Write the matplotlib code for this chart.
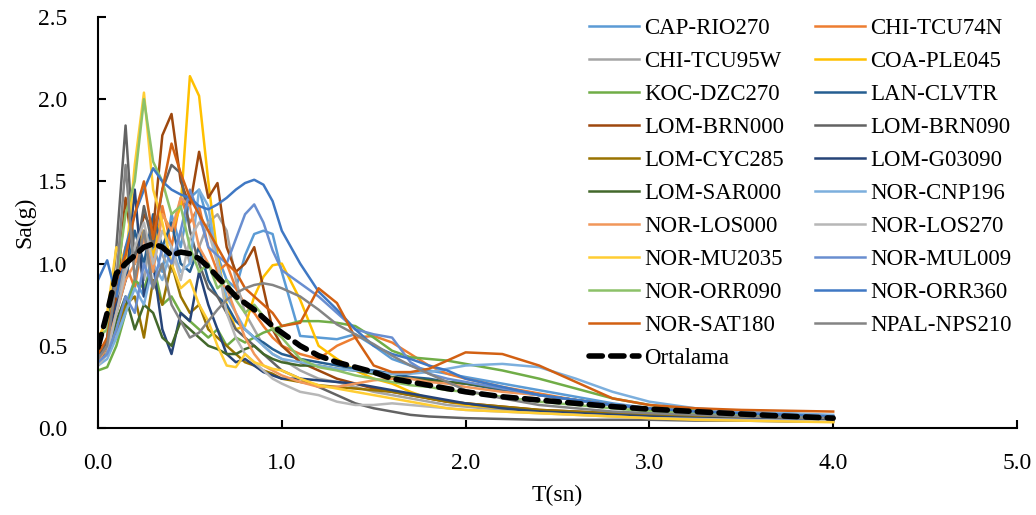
import matplotlib
matplotlib.use("Agg")
import matplotlib.pyplot as plt

plt.rcParams['font.family'] = ['Liberation Serif', 'DejaVu Serif']

T = [0.0, 0.05, 0.1, 0.15, 0.2, 0.25, 0.3, 0.35, 0.4, 0.45, 0.5, 0.55, 0.6, 0.65, 0.7,
     0.75, 0.8, 0.85, 0.9, 0.95, 1.0, 1.1, 1.2, 1.3, 1.4, 1.5, 1.6, 1.7, 1.8, 1.9, 2.0,
     2.2, 2.4, 2.6, 2.8, 3.0, 3.25, 3.5, 3.75, 4.0]

names = ["CAP-RIO270", "CHI-TCU74N", "CHI-TCU95W", "COA-PLE045", "KOC-DZC270", "LAN-CLVTR",
         "LOM-BRN000", "LOM-BRN090", "LOM-CYC285", "LOM-G03090", "LOM-SAR000", "NOR-CNP196",
         "NOR-LOS000", "NOR-LOS270", "NOR-MU2035", "NOR-MUL009", "NOR-ORR090", "NOR-ORR360",
         "NOR-SAT180", "NPAL-NPS210"]

colors = ["#5B9BD5", "#ED7D31", "#A5A5A5", "#FFC000", "#70AD47", "#255E91",
          "#9E480E", "#636363", "#997300", "#264478", "#43682B", "#7CAFDD",
          "#F1975A", "#B7B7B7", "#FFCD33", "#698ED0", "#8CC168", "#3F78C4",
          "#D26012", "#848484"]

CAP_RIO270 = [0.40, 0.45, 0.55, 0.75, 0.90, 0.80, 1.10, 0.95, 1.30, 1.10, 1.40, 1.45, 1.25, 1.05, 0.90,
              0.85, 1.05, 1.18, 1.20, 1.18, 0.95, 0.56, 0.55, 0.54, 0.57, 0.50, 0.42, 0.38, 0.35, 0.33, 0.31,
              0.27, 0.23, 0.19, 0.15, 0.12, 0.10, 0.09, 0.08, 0.07]
CHI_TCU74N = [0.42, 0.50, 0.80, 1.00, 0.85, 1.20, 1.00, 1.35, 1.10, 1.40, 1.25, 1.35, 1.10, 0.95, 1.00,
              0.85, 0.75, 0.70, 0.62, 0.55, 0.50, 0.45, 0.42, 0.50, 0.55, 0.56, 0.52, 0.45, 0.38, 0.33, 0.30,
              0.25, 0.21, 0.17, 0.14, 0.12, 0.10, 0.09, 0.08, 0.07]
CHI_TCU95W = [0.40, 0.48, 0.75, 1.00, 1.10, 0.90, 1.25, 1.05, 0.95, 1.20, 1.00, 1.10, 1.25, 1.30, 1.20,
              0.90, 0.70, 0.60, 0.50, 0.45, 0.42, 0.35, 0.30, 0.28, 0.25, 0.22, 0.20, 0.18, 0.16, 0.14, 0.13,
              0.11, 0.10, 0.09, 0.08, 0.07, 0.06, 0.055, 0.05, 0.045]
COA_PLE045 = [0.55, 0.65, 0.90, 1.10, 1.00, 1.20, 1.05, 1.30, 1.20, 1.35, 2.14, 2.02, 1.50, 1.05, 0.75,
              0.60, 0.62, 0.80, 0.92, 0.99, 1.00, 0.78, 0.50, 0.42, 0.35, 0.30, 0.27, 0.22, 0.18, 0.16, 0.14,
              0.12, 0.10, 0.09, 0.08, 0.07, 0.06, 0.05, 0.045, 0.04]
KOC_DZC270 = [0.35, 0.37, 0.50, 0.70, 0.90, 0.85, 1.00, 0.75, 0.80, 0.70, 0.65, 0.60, 0.55, 0.60, 0.50,
              0.55, 0.52, 0.55, 0.58, 0.60, 0.62, 0.65, 0.65, 0.64, 0.62, 0.55, 0.47, 0.43, 0.42, 0.41, 0.39,
              0.35, 0.30, 0.24, 0.18, 0.14, 0.11, 0.09, 0.08, 0.07]
LAN_CLVTR = [0.45, 0.50, 0.70, 0.90, 1.20, 1.00, 1.30, 1.10, 1.25, 1.00, 0.95, 1.10, 0.90, 0.80, 0.75,
             0.65, 0.60, 0.55, 0.52, 0.48, 0.45, 0.42, 0.40, 0.38, 0.36, 0.35, 0.33, 0.31, 0.30, 0.28, 0.27,
             0.23, 0.20, 0.17, 0.14, 0.12, 0.10, 0.09, 0.08, 0.07]
LOM_BRN000 = [0.40, 0.50, 0.80, 1.40, 1.00, 1.30, 1.20, 1.78, 1.91, 1.50, 1.35, 1.68, 1.40, 1.49, 1.10,
              0.95, 1.00, 1.10, 0.85, 0.60, 0.50, 0.40, 0.35, 0.30, 0.27, 0.24, 0.22, 0.20, 0.18, 0.16, 0.15,
              0.13, 0.11, 0.10, 0.09, 0.08, 0.07, 0.06, 0.055, 0.05]
LOM_BRN090 = [0.38, 0.55, 1.10, 1.84, 1.00, 1.35, 1.10, 1.45, 1.60, 1.55, 1.20, 1.00, 0.85, 0.80, 0.70,
              0.60, 0.55, 0.50, 0.45, 0.40, 0.35, 0.30, 0.25, 0.20, 0.15, 0.12, 0.10, 0.08, 0.07, 0.065, 0.06,
              0.055, 0.05, 0.05, 0.05, 0.05, 0.045, 0.045, 0.04, 0.04]
LOM_CYC285 = [0.40, 0.45, 0.60, 0.75, 0.80, 0.55, 0.90, 0.75, 1.00, 0.80, 0.70, 0.75, 0.60, 0.55, 0.50,
              0.45, 0.40, 0.38, 0.35, 0.33, 0.30, 0.28, 0.26, 0.25, 0.24, 0.23, 0.22, 0.20, 0.18, 0.16, 0.15,
              0.13, 0.11, 0.10, 0.09, 0.08, 0.07, 0.06, 0.055, 0.05]
LOM_G03090 = [0.42, 0.50, 0.75, 0.90, 1.45, 0.80, 1.00, 0.60, 0.45, 0.70, 0.65, 0.95, 0.75, 0.60, 0.45,
              0.40, 0.42, 0.38, 0.34, 0.32, 0.30, 0.30, 0.29, 0.28, 0.27, 0.25, 0.23, 0.21, 0.19, 0.17, 0.15,
              0.12, 0.10, 0.09, 0.08, 0.07, 0.06, 0.055, 0.05, 0.045]
LOM_SAR000 = [0.40, 0.45, 0.65, 0.80, 0.60, 0.75, 0.70, 0.55, 0.50, 0.65, 0.60, 0.55, 0.50, 0.48, 0.45,
              0.45, 0.48, 0.50, 0.45, 0.42, 0.40, 0.38, 0.38, 0.36, 0.35, 0.33, 0.31, 0.30, 0.29, 0.28, 0.27,
              0.24, 0.20, 0.17, 0.14, 0.11, 0.09, 0.08, 0.07, 0.06]
NOR_CNP196 = [0.38, 0.42, 0.55, 0.70, 0.85, 0.75, 1.00, 0.90, 1.10, 0.95, 1.00, 1.45, 1.35, 1.00, 0.80,
              0.70, 0.60, 0.55, 0.50, 0.45, 0.42, 0.40, 0.38, 0.36, 0.35, 0.34, 0.33, 0.33, 0.34, 0.36, 0.38,
              0.39, 0.37, 0.30, 0.22, 0.16, 0.12, 0.10, 0.09, 0.08]
NOR_LOS000 = [0.40, 0.50, 0.70, 0.90, 1.00, 1.15, 0.95, 1.30, 1.20, 1.40, 1.35, 1.10, 1.00, 0.90, 0.85,
              0.70, 0.55, 0.45, 0.38, 0.35, 0.32, 0.28, 0.25, 0.25, 0.27, 0.29, 0.30, 0.30, 0.28, 0.27, 0.25,
              0.22, 0.20, 0.17, 0.14, 0.12, 0.10, 0.09, 0.08, 0.07]
NOR_LOS270 = [0.38, 0.45, 0.70, 0.95, 1.10, 1.25, 1.00, 1.20, 1.10, 0.90, 1.15, 1.25, 1.20, 1.00, 0.70,
              0.55, 0.45, 0.40, 0.35, 0.30, 0.27, 0.22, 0.20, 0.16, 0.14, 0.14, 0.15, 0.14, 0.13, 0.12, 0.11,
              0.10, 0.09, 0.08, 0.07, 0.06, 0.055, 0.05, 0.045, 0.04]
NOR_MU2035 = [0.50, 0.70, 1.10, 1.00, 1.60, 2.04, 1.45, 1.25, 1.00, 0.85, 0.90, 0.75, 0.65, 0.50, 0.38,
              0.37, 0.45, 0.40, 0.38, 0.36, 0.35, 0.30, 0.26, 0.24, 0.22, 0.20, 0.18, 0.16, 0.14, 0.12, 0.11,
              0.10, 0.09, 0.08, 0.07, 0.06, 0.05, 0.045, 0.04, 0.035]
NOR_MUL009 = [0.40, 0.45, 0.60, 0.80, 0.70, 1.00, 0.85, 1.10, 1.00, 1.20, 1.45, 1.30, 1.10, 1.05, 1.00,
              1.15, 1.30, 1.36, 1.25, 1.08, 0.96, 0.88, 0.80, 0.70, 0.60, 0.57, 0.55, 0.40, 0.33, 0.30, 0.28,
              0.24, 0.20, 0.17, 0.14, 0.12, 0.10, 0.09, 0.08, 0.07]
NOR_ORR090 = [0.55, 0.60, 0.90, 1.30, 1.50, 2.00, 1.62, 1.50, 1.30, 1.35, 1.10, 0.95, 1.00, 0.85, 0.90,
              0.78, 0.70, 0.75, 0.68, 0.60, 0.55, 0.42, 0.37, 0.35, 0.32, 0.30, 0.28, 0.26, 0.25, 0.23, 0.22,
              0.19, 0.16, 0.14, 0.12, 0.10, 0.09, 0.08, 0.07, 0.06]
NOR_ORR360 = [0.90, 1.02, 0.80, 1.10, 1.30, 1.45, 1.58, 1.50, 1.45, 1.42, 1.40, 1.35, 1.33, 1.36, 1.40,
              1.45, 1.49, 1.51, 1.48, 1.38, 1.20, 1.00, 0.83, 0.72, 0.60, 0.50, 0.45, 0.42, 0.38, 0.35, 0.30,
              0.25, 0.20, 0.17, 0.14, 0.12, 0.10, 0.09, 0.08, 0.07]
NOR_SAT180 = [0.45, 0.55, 0.90, 1.05, 1.30, 1.50, 1.15, 1.45, 1.73, 1.55, 1.40, 1.30, 1.20, 1.10, 1.00,
              0.95, 0.85, 0.80, 0.75, 0.70, 0.62, 0.64, 0.85, 0.76, 0.55, 0.38, 0.34, 0.34, 0.36, 0.41, 0.46,
              0.45, 0.38, 0.28, 0.18, 0.14, 0.12, 0.11, 0.105, 0.10]
NPAL_NPS210 = [0.42, 0.50, 0.90, 1.60, 0.90, 1.20, 0.85, 1.00, 0.75, 0.65, 0.55, 0.58, 0.65, 0.72, 0.78,
               0.82, 0.85, 0.87, 0.88, 0.87, 0.85, 0.80, 0.72, 0.63, 0.57, 0.51, 0.44, 0.38, 0.33, 0.28, 0.23,
               0.18, 0.14, 0.12, 0.10, 0.09, 0.08, 0.07, 0.065, 0.06]

ORTALAMA = [0.49, 0.70, 0.94, 1.00, 1.05, 1.10, 1.12, 1.10, 1.05, 1.07, 1.06, 1.03, 0.98, 0.92, 0.86,
            0.80, 0.76, 0.72, 0.67, 0.62, 0.58, 0.50, 0.44, 0.40, 0.37, 0.34, 0.30, 0.28, 0.26, 0.24, 0.22,
            0.19, 0.17, 0.15, 0.13, 0.115, 0.10, 0.085, 0.072, 0.06]

series = [CAP_RIO270, CHI_TCU74N, CHI_TCU95W, COA_PLE045, KOC_DZC270, LAN_CLVTR, LOM_BRN000,
          LOM_BRN090, LOM_CYC285, LOM_G03090, LOM_SAR000, NOR_CNP196, NOR_LOS000, NOR_LOS270,
          NOR_MU2035, NOR_MUL009, NOR_ORR090, NOR_ORR360, NOR_SAT180, NPAL_NPS210]

fig = plt.figure(figsize=(10.36, 5.15), dpi=100)
ax = fig.add_axes([98/1036, 1 - 428/515, (1017-98)/1036, (428-17)/515])

handles = []
for name, col, vals in zip(names, colors, series):
    h, = ax.plot(T, vals, color=col, lw=1.8, label=name, solid_joinstyle='round')
    handles.append(h)
avg, = ax.plot(T, ORTALAMA, color='black', lw=4.0, ls=(0, (2.4, 1.5)),
               dash_capstyle='round', label='Ortalama')

ax.set_xlim(0, 5)
ax.set_ylim(0, 2.5)
ax.set_xticks([0, 1, 2, 3, 4, 5])
ax.set_yticks([0, 0.5, 1.0, 1.5, 2.0, 2.5])
ax.xaxis.set_major_formatter(matplotlib.ticker.FormatStrFormatter('%.1f'))
ax.yaxis.set_major_formatter(matplotlib.ticker.FormatStrFormatter('%.1f'))
ax.tick_params(direction='in', length=6, width=1.5, labelsize=17)
ax.tick_params(axis='y', pad=22)
ax.tick_params(axis='x', pad=18)
for s in ['top', 'right']:
    ax.spines[s].set_visible(False)
for s in ['left', 'bottom']:
    ax.spines[s].set_linewidth(1.5)
ax.set_xlabel('T(sn)', fontsize=17, labelpad=8)
ax.set_ylabel('Sa(g)', fontsize=17, labelpad=2)

order = handles[0::2] + [avg] + handles[1::2]
leg = fig.legend(handles=order, labels=[h.get_label() for h in order], ncol=2,
                 loc='upper left', bbox_to_anchor=(573/1036, 1 - 2/515), frameon=False,
                 fontsize=16.5, handlelength=2.2, handletextpad=0.2, labelspacing=0.52,
                 columnspacing=1.35, borderpad=0.2)

fig.savefig('out.png', dpi=100)
